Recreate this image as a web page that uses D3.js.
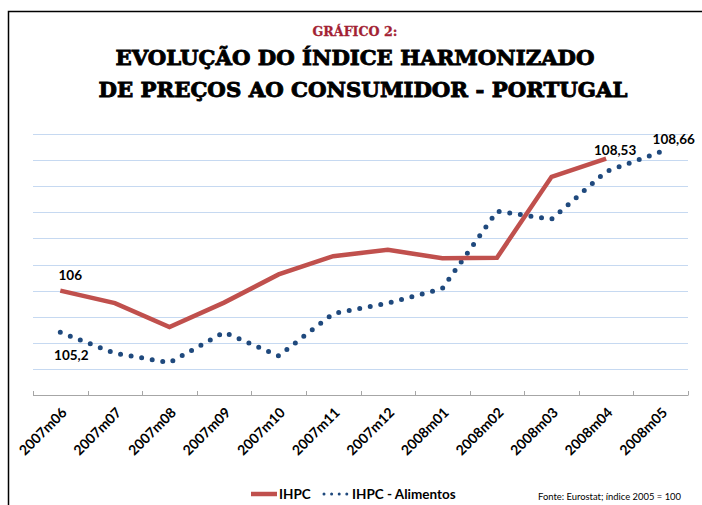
<!DOCTYPE html>
<html>
<head>
<meta charset="utf-8">
<script src="https://cdn.jsdelivr.net/npm/d3@7"></script>
<style>
  body { margin: 0; background: #fff; }
  svg { display: block; }
</style>
</head>
<body>
<svg id="main_svg" width="702" height="505"></svg>
<script>
// data
const months = ["2007m06", "2007m07", "2007m08", "2007m09", "2007m10", "2007m11",
                "2007m12", "2008m01", "2008m02", "2008m03", "2008m04", "2008m05"];
const ihpc = [106, 105.76, 105.30, 105.77, 106.31, 106.66, 106.78, 106.62, 106.63, 108.18, 108.53, null];
const ihpcFood = [105.2, 104.80, 104.62, 105.20, 104.75, 105.56, 105.76, 106.04, 107.52, 107.37, 108.28, 108.66];
const gridValues = [104.5, 105, 105.5, 106, 106.5, 107, 107.5, 108, 108.5, 109];
// point labels
const pointLabels = [
  {series: "ihpc", i: 0, text: "106"},
  {series: "food", i: 0, text: "105,2"},
  {series: "ihpc", i: 10, text: "108,53"},
  {series: "food", i: 11, text: "108,66"}
];

const red = "#c0504d";
const blue = "#1f497d";
const plot = {left: 33, right: 688, top: 134, bottom: 395};

const svg = d3.select("#main_svg");

// frame
svg.append("rect").attr("x", 8.5).attr("y", 11.5).attr("width", 720).attr("height", 520)
  .attr("fill", "none").attr("stroke", "#000").attr("stroke-width", 1.5);

// titles
svg.append("text").attr("x", 355).attr("y", 36).attr("text-anchor", "middle")
  .attr("font-family", "DejaVu Serif").attr("font-weight", "bold").attr("font-size", 13)
  .attr("fill", "#a31f34").attr("textLength", 85).attr("lengthAdjust", "spacingAndGlyphs")
  .attr("stroke", "#a31f34").attr("stroke-width", 0.3)
  .text("GRÁFICO 2:");
svg.append("text").attr("x", 355).attr("y", 65).attr("text-anchor", "middle")
  .attr("font-family", "DejaVu Serif").attr("font-weight", "bold").attr("font-size", 21)
  .attr("fill", "#000").attr("textLength", 479).attr("lengthAdjust", "spacingAndGlyphs")
  .attr("stroke", "#000").attr("stroke-width", 0.9)
  .text("EVOLUÇÃO DO ÍNDICE HARMONIZADO");
svg.append("text").attr("x", 363).attr("y", 97).attr("text-anchor", "middle")
  .attr("font-family", "DejaVu Serif").attr("font-weight", "bold").attr("font-size", 21)
  .attr("fill", "#000").attr("textLength", 529).attr("lengthAdjust", "spacingAndGlyphs")
  .attr("stroke", "#000").attr("stroke-width", 0.9)
  .text("DE PREÇOS AO CONSUMIDOR - PORTUGAL");

// scales
const x = d3.scaleBand().domain(months).range([plot.left, plot.right]);
const cx = d => x(d) + x.bandwidth() / 2;
const y = d3.scaleLinear().domain([104, 109]).range([plot.bottom, plot.top]);

// gridlines
svg.append("g").selectAll("line").data(gridValues).enter().append("line")
  .attr("x1", plot.left).attr("x2", plot.right)
  .attr("y1", d => Math.round(y(d)) + 0.5).attr("y2", d => Math.round(y(d)) + 0.5)
  .attr("stroke", "#c6d9f1").attr("stroke-width", 1.2);

// x axis with ticks on band edges
const axisG = svg.append("g");
axisG.append("line").attr("x1", plot.left).attr("x2", plot.right)
  .attr("y1", y(104) + 0.5).attr("y2", y(104) + 0.5).attr("stroke", "#a6a6a6").attr("stroke-width", 1.2);
const edges = months.map(m => x(m)).concat([plot.right]);
axisG.selectAll(".tick").data(edges).enter().append("line").attr("class", "tick")
  .attr("x1", d => Math.round(d) + 0.5).attr("x2", d => Math.round(d) + 0.5)
  .attr("y1", y(104) - 4).attr("y2", y(104) + 0.5)
  .attr("stroke", "#a6a6a6").attr("stroke-width", 1);
axisG.selectAll(".lbl").data(months).enter().append("text").attr("class", "lbl")
  .attr("transform", d => "translate(" + (cx(d) + 4) + "," + 410 + ") rotate(-45)")
  .attr("text-anchor", "end").attr("dy", "0.35em")
  .attr("font-family", "Lato").attr("font-weight", "bold").attr("font-size", 14)
  .attr("fill", "#000").text(d => d);

// lines
const lineGen = d3.line().defined(d => d[1] != null).x(d => cx(d[0])).y(d => y(d[1]));
svg.append("path").datum(months.map((m, i) => [m, ihpcFood[i]]))
  .attr("d", lineGen).attr("fill", "none").attr("stroke", blue)
  .attr("stroke-width", 5).attr("stroke-linecap", "round").attr("stroke-dasharray", "0,10.7");
svg.append("path").datum(months.map((m, i) => [m, ihpc[i]]))
  .attr("d", lineGen).attr("fill", "none").attr("stroke", red)
  .attr("stroke-width", 4.5).attr("stroke-linejoin", "miter");

// point labels
const labelOffsets = {"106": [10, -10.5], "105,2": [11, 27.5], "108,53": [9, -4], "108,66": [13, -8]};
svg.append("g").selectAll("text").data(pointLabels).enter().append("text")
  .attr("x", d => cx(months[d.i]) + labelOffsets[d.text][0])
  .attr("y", d => y(d.series === "ihpc" ? ihpc[d.i] : ihpcFood[d.i]) + labelOffsets[d.text][1])
  .attr("text-anchor", "middle")
  .attr("font-family", "Lato").attr("font-weight", "bold").attr("font-size", 13.5)
  .attr("fill", "#000").text(d => d.text);

// legend
const lg = svg.append("g");
lg.append("line").attr("x1", 251).attr("x2", 277).attr("y1", 494).attr("y2", 494)
  .attr("stroke", red).attr("stroke-width", 4.5);
lg.append("text").attr("x", 279).attr("y", 498.5)
  .attr("font-family", "Lato").attr("font-weight", "bold").attr("font-size", 13.5)
  .text("IHPC");
lg.append("line").attr("x1", 324).attr("x2", 348).attr("y1", 494).attr("y2", 494)
  .attr("stroke", blue).attr("stroke-width", 3).attr("stroke-linecap", "round").attr("stroke-dasharray", "0,7.6");
lg.append("text").attr("x", 352).attr("y", 498.5)
  .attr("font-family", "Lato").attr("font-weight", "bold").attr("font-size", 13.5)
  .text("IHPC - Alimentos");

// source
svg.append("text").attr("x", 538).attr("y", 500)
  .attr("font-family", "Lato").attr("font-size", 10).attr("fill", "#000")
  .attr("textLength", 143).attr("lengthAdjust", "spacingAndGlyphs")
  .text("Fonte: Eurostat; índice 2005 = 100");
</script>
</body>
</html>
